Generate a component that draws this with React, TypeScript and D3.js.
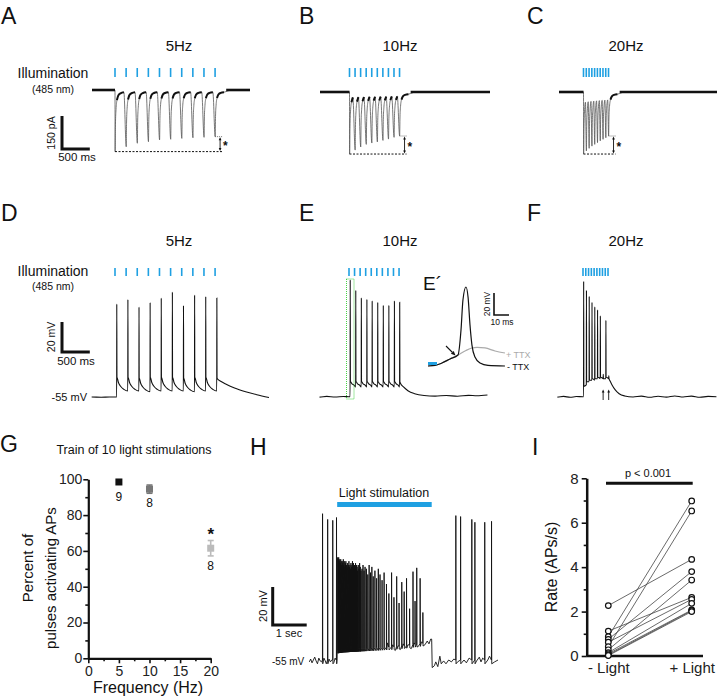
import { useEffect, useRef } from "react";
import * as d3 from "d3";

const FONT = "'Liberation Sans', Arial, Helvetica, sans-serif";
const BLUE = "#1fa0e2";
const INK = "#111";

// light pulse times (ms after first pulse)
const pulses5Hz = [0, 200, 400, 600, 800, 1000, 1200, 1400, 1600, 1800];
const pulses10Hz = [0, 100, 200, 300, 400, 500, 600, 700, 800, 900];
const pulses20Hz = [0, 50, 100, 150, 200, 250, 300, 350, 400, 450];

// A-C: peak photocurrent for each pulse (pA)
const peakA = [-280, -258, -242, -235, -227, -224, -220, -217, -215, -212];
const peakB = [-282, -264, -250, -238, -232, -227, -220, -214, -206, -200];
const peakC = [-282, -268, -256, -246, -238, -230, -222, -215, -208, -200];
// photocurrent time course: [ms after pulse, fraction of peak]
const epscShape = [[0, 0], [2, 1], [8, 0.55], [18, 0.3], [35, 0.14], [60, 0.06], [100, 0.025], [160, 0.01]];
const trainOffset = -8;

// D-F: light-evoked spikes, [ms, mV]
const spikeTD = [30, 230, 430, 630, 830, 1030, 1230, 1430, 1630, 1830];
const peakD = [7, 10, 5, 8, 11, 15, 6, 13, 12, 11];
const troughD = [-42, -42, -42.5, -42, -42, -42, -42.5, -42, -42, -42];
const preD = [-55, -51, -51, -51.5, -51, -51, -51, -51.5, -51, -51];
const headD = [[-420, -55], [-250, -55.2], [-100, -55], [0, -55]];
const tailD = [[1845, -43], [1900, -44.5], [2000, -46.5], [2150, -49], [2350, -51.5], [2550, -53.5], [2770, -55.3]];

const spikeTE = [20, 120, 220, 320, 415, 515, 615, 715, 815, 910];
const peakE = [23, 16, 11, 10, 9, 8, 6, 6, 9, 8];
const troughE = [-45, -45, -45, -45, -45, -45, -45, -45, -45, -45];
const preE = [-55, -48.5, -48.5, -48.5, -48.5, -48.5, -48.5, -48.5, -48.5, -48.5];
const headE = [[-530, -55.3], [-400, -54.8], [-250, -55.2], [-100, -54.9], [0, -55]];
const tailE = [[925, -46], [980, -48.5], [1060, -51], [1180, -53], [1350, -54.2], [1550, -54.6], [1750, -54.2], [1950, -54.7], [2150, -54.1], [2300, -54.4], [2490, -53.9]];

const spikeTF = [10, 60, 110, 160, 210, 260, 310, 362, 410, 462];
const peakF = [22, 16, 12, 8, 5, 3, -1, -40, -4, -41];
const troughF = [-48, -45, -44, -43, -43, -42, -42, -43, -42, -43];
const preF = [-55, -47, -45, -44, -44, -43, -43, -43, -43, -43];
const headF = [[-460, -55.3], [-350, -54.8], [-230, -55.4], [-120, -54.9], [0, -55]];
const tailF = [[480, -44], [520, -47], [580, -50.5], [650, -53], [750, -54.5], [900, -55.2], [1050, -54.6], [1200, -55.4], [1350, -54.7], [1500, -55.3], [1650, -54.5], [1800, -55.2], [1950, -54.6], [2100, -55.4], [2250, -54.8], [2400, -55]];
const failuresF = [362, 462];
// after-spike decay: [ms after spike, fraction from trough to next pre value]
const vDecay = [[8, 0], [30, 0.35], [70, 0.65], [130, 0.88]];

// E': single response with and without TTX, [ms, mV above rest]
const noTTX = [[0, 0], [4.7, 0.5], [9.3, 2.7], [14.7, 6.4], [20, 10], [22, 32.7], [23.3, 60], [25.3, 71.8], [26.7, 62.7], [28, 37.3], [29.3, 19], [31.3, 8.2], [34.7, 2.7], [40, 0.5], [51.3, 0]];
const withTTX = [[0, 0], [4.7, 0.5], [9.3, 2.7], [14.7, 6.4], [20, 10], [25.3, 14.1], [29.3, 16.4], [32.7, 17], [38, 16.4], [44.7, 13.6], [51.3, 11.8]];

// G: % of pulses that evoked an AP
const freqs = [5, 10, 20];
const pctMean = [98.5, 94.5, 61.5];
const pctSem = [0.6, 2.3, 4.3];
const cellN = ["9", "8", "8"];
const freqColors = ["#111", "#777", "#bbb"];

// H: long light stimulation, seconds / mV
const hRestPre = [[0, -56], [0.04, -54.5], [0.08, -56.5], [0.12, -55], [0.16, -53.5], [0.2, -55.5], [0.24, -57], [0.28, -54], [0.32, -55.5], [0.36, -56], [0.43, -54], [0.47, -55.5], [0.5, -57], [0.58, -54.5], [0.62, -56], [0.66, -55], [0.72, -56.5], [0.76, -54], [0.79, -55], [0.815, -55]];
const hPreSpikeT = [0.39, 0.54, 0.69, 0.8];
const hPreSpikePeak = [22, 19, 18.5, 20];
const hPlateau = [[0.82, -50], [1.0, -49.5], [1.5, -49], [2.0, -48.5], [2.5, -48], [3.0, -47], [3.4, -46], [3.6, -44.5]];
const hStimNoise = [[0.82, -50], [2.3, -46], [2.38, -49], [2.45, -47], [2.53, -50], [2.61, -47.5], [2.68, -49.5], [2.76, -46.5], [2.83, -48.5], [2.9, -47], [3.0, -49], [3.08, -46], [3.2, -48], [3.3, -45.5], [3.4, -47], [3.47, -45], [3.52, -46.5], [3.57, -44], [3.598, -44]];
const hStimSpikeT = [
  0.835, 0.85, 0.865, 0.88, 0.895, 0.91, 0.925, 0.94, 0.955, 0.97, 0.985, 1.0, 1.015, 1.03, 1.045, 1.06, 1.075, 1.09, 1.105, 1.12, 1.135, 1.15, 1.165, 1.18, 1.195, 1.21, 1.225, 1.24, 1.255, 1.27, 1.285, 1.3, 1.315, 1.33, 1.345, 1.36, 1.375, 1.39, 1.405, 1.42,
  1.44, 1.46, 1.48, 1.5, 1.52, 1.55, 1.58, 1.61, 1.64,
  1.68, 1.72, 1.76, 1.8, 1.84, 1.88,
  1.93, 1.98, 2.03, 2.08, 2.14, 2.2,
  2.27, 2.34, 2.42, 2.49, 2.57, 2.64, 2.72, 2.79, 2.86, 2.95, 3.05, 3.11, 3.16, 3.26, 3.34,
];
const hStimSpikePeak = [
  -1, -2, -1, -3, -2, -4, -2, -3, -5, -3, -4, -2, -5, -3, -6, -4, -3, -5, -6, -4, -7, -5, -3, -6, -5, -7, -4, -6, -5, -3, -6, -4, -7, -5, -6, -4, -7, -5, -6, -8,
  -5, -7, -4, -6, -8, -7, -5, -8, -6,
  -7, -10, -5, -9, -6, -11,
  -8, -12, -7, -10, -13, -9,
  -15, -20, -9, -22, -11, -25, -14, -19, -12, -28, -8.5, -24, -6.5, -12, -30,
];
const hRestPost = [[3.6, -44.5], [3.615, -59], [3.68, -58], [3.72, -56], [3.78, -58.5], [3.84, -53], [3.88, -57], [3.95, -55.5], [4.02, -57], [4.1, -55], [4.18, -56], [4.25, -54.5], [4.36, -56], [4.55, -55], [4.62, -56.5], [4.7, -54], [4.92, -55.5], [5.0, -53.5], [5.05, -56], [5.1, -54], [5.25, -55], [5.3, -53], [5.45, -56], [5.55, -55]];
const hPostSpikeT = [4.31, 4.45, 4.78, 4.87, 5.16, 5.36];
const hPostSpikePeak = [21, 20.5, 19, 17.5, 17.5, 18];

// I: firing rate per cell (APs/s)
const lightCats = ["- Light", "+ Light"];
const rateOff = [2.27, 1.12, 0.87, 0.75, 0.62, 0.42, 0.28, 0.15, 0.1, 0.05, 0.02];
const rateOn = [4.35, 2.64, 6.98, 3.8, 2.55, 6.53, 3.42, 2.37, 2.07, 2.04, 2.0];

function txt(g: any, x: number, y: number, s: string, size: number, o: any = {}) {
  const t = g.append("text").attr("x", x).attr("y", y).text(s)
    .attr("font-family", FONT).attr("font-size", size)
    .attr("text-anchor", o.anchor || "start")
    .attr("fill", o.fill || INK)
    .attr("font-weight", o.weight || "normal");
  if (o.rotate) t.attr("transform", `rotate(-90,${x},${y})`);
  return t;
}

function arrowHead(g: any, x: number, y: number, dx: number, dy: number, size: number) {
  const len = Math.hypot(dx, dy);
  const ux = dx / len, uy = dy / len;
  const bx = x - ux * size, by = y - uy * size;
  const px = -uy * size * 0.45, py = ux * size * 0.45;
  g.append("path").attr("d", `M${x},${y}L${bx + px},${by + py}L${bx - px},${by - py}Z`).attr("fill", INK);
}

function lightTicks(g: any, t: any, pulses: number[], y0: number, y1: number) {
  g.selectAll(null).data(pulses).join("line")
    .attr("x1", (d: number) => t(d)).attr("x2", (d: number) => t(d))
    .attr("y1", y0).attr("y2", y1)
    .attr("stroke", BLUE).attr("stroke-width", 1.6);
}

function drawCurrent(svg: any, c: any) {
  const t = d3.scaleLinear().domain([0, 1000]).range([c.xPulse, c.xPulse + 55.6]);
  const y = d3.scaleLinear().domain([0, -150]).range([c.base, c.base + 33]);
  const tStart = t.invert(c.x0), tEnd = t.invert(c.x1);
  const last = c.pulses.length - 1;
  const pts: number[][] = [[tStart, 0]];
  c.pulses.forEach((p: number, i: number) => {
    const next = i < last ? c.pulses[i + 1] : Infinity;
    epscShape.forEach(([dt, f], k) => {
      if (k === 0 && i > 0) return;
      if (p + dt >= next) return;
      pts.push([p + dt, k === 0 ? 0 : c.peaks[i] * f + trainOffset * (1 - f)]);
    });
  });
  pts.push([c.pulses[last] + 300, 0], [tEnd, 0]);
  const line = d3.line().x((d: any) => t(d[0])).y((d: any) => y(d[1])).curve(d3.curveMonotoneX);
  svg.append("path").attr("d", line(pts as any)).attr("fill", "none").attr("stroke", "#555").attr("stroke-width", 0.8);
  // noisy baseline, drawn heavier
  svg.append("path").attr("d", line([[tStart, 0], [0, 0]] as any)).attr("stroke", INK).attr("stroke-width", 2.6);
  svg.append("path").attr("d", line([[c.pulses[last] + 200, 0], [tEnd, 0]] as any)).attr("stroke", INK).attr("stroke-width", 2.6);
  // thick tops between pulses
  c.pulses.forEach((p: number, i: number) => {
    const next = i < last ? c.pulses[i + 1] : p + 200;
    const seg = pts.filter((d) => d[0] >= p + 35 && d[0] < next);
    if (seg.length > 1) svg.append("path").attr("d", line(seg as any)).attr("fill", "none").attr("stroke", INK).attr("stroke-width", 2);
  });

  lightTicks(svg, t, c.pulses, 68, 77);

  const yMin = y(d3.min(c.peaks) as number);
  const yLast = y(c.peaks[last]);
  const ax = t(c.pulses[last]) + 5;
  svg.append("line").attr("x1", t(0)).attr("x2", ax + 2).attr("y1", yMin).attr("y2", yMin)
    .attr("stroke", INK).attr("stroke-width", 1).attr("stroke-dasharray", "2,1.5");
  svg.append("line").attr("x1", t(c.pulses[last])).attr("x2", ax + 2).attr("y1", yLast).attr("y2", yLast)
    .attr("stroke", "#555").attr("stroke-width", 0.8).attr("stroke-dasharray", "1,1");
  svg.append("line").attr("x1", ax).attr("x2", ax).attr("y1", yLast + 2).attr("y2", yMin - 2)
    .attr("stroke", INK).attr("stroke-width", 0.9);
  arrowHead(svg, ax, yLast + 0.5, 0, -1, 3);
  arrowHead(svg, ax, yMin - 0.5, 0, 1, 3);
  txt(svg, ax + 3, (yLast + yMin) / 2 + 6, "*", 12, { weight: "bold" });
  txt(svg, c.titleX, 51, c.title, 15, { anchor: "middle" });
}

function drawVoltage(svg: any, c: any) {
  const t = d3.scaleLinear().domain([0, 1000]).range([c.xPulse, c.xPulse + 55.6]);
  const y = d3.scaleLinear().domain([-55, -35]).range([c.base, c.base - 30]);
  const pts: number[][] = [[t.invert(c.x0), c.head[0][1]], ...c.head];
  const n = c.spikes.length;
  c.spikes.forEach((s: number, i: number) => {
    const next = i < n - 1 ? c.spikes[i + 1] : Infinity;
    pts.push([s, c.pres[i]], [s + 2, c.peaks[i]], [s + 5, c.troughs[i]]);
    if (i < n - 1) {
      vDecay.forEach(([dt, f]) => {
        if (s + dt < next - 3) pts.push([s + dt, c.troughs[i] + (c.pres[i + 1] - c.troughs[i]) * f]);
      });
    }
  });
  c.tail.forEach((p: number[]) => pts.push(p));
  const line = d3.line().x((d: any) => t(d[0])).y((d: any) => y(d[1])).curve(d3.curveMonotoneX);
  svg.append("path").attr("d", line(pts as any)).attr("fill", "none").attr("stroke", INK).attr("stroke-width", 1.1);
  lightTicks(svg, t, c.pulses, 268, 276);
  txt(svg, c.titleX, 246, c.title, 15, { anchor: "middle" });
  return { t, y };
}

export default function App() {
  const ref = useRef<SVGSVGElement>(null);

  useEffect(() => {
    const svg = d3.select(ref.current);
    svg.selectAll("*").remove();

    // panel letters
    const letters: [string, number, number][] = [["A", 1, 24], ["B", 299, 24], ["C", 527, 24], ["D", 1, 221], ["E", 299, 221], ["F", 527, 221], ["G", 0, 452], ["H", 250, 455], ["I", 532, 455]];
    letters.forEach(([s, x, y]) => txt(svg, x, y, s, 23));

    // ---------- A-C photocurrents ----------
    drawCurrent(svg, { title: "5Hz", titleX: 179, x0: 92, x1: 250, xPulse: 115, base: 90, pulses: pulses5Hz, peaks: peakA });
    drawCurrent(svg, { title: "10Hz", titleX: 400, x0: 320, x1: 490, xPulse: 349.5, base: 92, pulses: pulses10Hz, peaks: peakB });
    drawCurrent(svg, { title: "20Hz", titleX: 626, x0: 559, x1: 717, xPulse: 583.5, base: 92, pulses: pulses20Hz, peaks: peakC });

    txt(svg, 53, 78, "Illumination", 14, { anchor: "middle" });
    txt(svg, 53, 93, "(485 nm)", 10.5, { anchor: "middle" });
    // current scale bar: 150 pA / 500 ms
    const sbT = d3.scaleLinear().domain([0, 500]).range([62, 62 + 27.8]);
    const sbI = d3.scaleLinear().domain([0, 150]).range([149, 116]);
    svg.append("path").attr("d", `M${sbT(0)},${sbI(150)}V${sbI(0)}H${sbT(500)}`).attr("fill", "none").attr("stroke", INK).attr("stroke-width", 3);
    txt(svg, 55, 133, "150 pA", 10.5, { anchor: "middle", rotate: true });
    txt(svg, 77, 161, "500 ms", 11.5, { anchor: "middle" });

    // ---------- D-F voltage ----------
    drawVoltage(svg, { title: "5Hz", titleX: 179, x0: 92, xPulse: 115, base: 397, pulses: pulses5Hz, spikes: spikeTD, peaks: peakD, troughs: troughD, pres: preD, head: headD, tail: tailD });
    drawVoltage(svg, { title: "10Hz", titleX: 400, x0: 320, xPulse: 349, base: 396.7, pulses: pulses10Hz, spikes: spikeTE, peaks: peakE, troughs: troughE, pres: preE, head: headE, tail: tailE });
    const f = drawVoltage(svg, { title: "20Hz", titleX: 626, x0: 558, xPulse: 583, base: 396.7, pulses: pulses20Hz, spikes: spikeTF, peaks: peakF, troughs: troughF, pres: preF, head: headF, tail: tailF });
    failuresF.forEach((tt) => {
      const x = f.t(tt);
      svg.append("line").attr("x1", x).attr("x2", x).attr("y1", 400).attr("y2", 392).attr("stroke", INK).attr("stroke-width", 0.9);
      arrowHead(svg, x, 389.5, 0, -1, 3);
    });

    txt(svg, 53, 276, "Illumination", 14, { anchor: "middle" });
    txt(svg, 53, 290, "(485 nm)", 10.5, { anchor: "middle" });
    const sbV = d3.scaleLinear().domain([0, 20]).range([352, 322]);
    svg.append("path").attr("d", `M${sbT(0)},${sbV(20)}V${sbV(0)}H${sbT(500)}`).attr("fill", "none").attr("stroke", INK).attr("stroke-width", 3);
    txt(svg, 55, 337, "20 mV", 10.5, { anchor: "middle", rotate: true });
    txt(svg, 76, 365, "500 ms", 11.5, { anchor: "middle" });
    txt(svg, 87, 401, "-55 mV", 11, { anchor: "end" });

    // green box around first spike in E
    svg.append("rect").attr("x", 346.5).attr("y", 279).attr("width", 7.5).attr("height", 120)
      .attr("fill", "none").attr("stroke", "#3c3").attr("stroke-width", 0.9).attr("stroke-dasharray", "1,1");

    // ---------- E' inset ----------
    const ex = d3.scaleLinear().domain([0, 10]).range([428, 443]);
    const ey = d3.scaleLinear().domain([0, 20]).range([366, 344]);
    const eLine = d3.line().x((d: any) => ex(d[0])).y((d: any) => ey(d[1])).curve(d3.curveMonotoneX);
    svg.append("path").attr("d", eLine(withTTX as any)).attr("fill", "none").attr("stroke", "#aaa").attr("stroke-width", 1.2);
    svg.append("path").attr("d", eLine(noTTX as any)).attr("fill", "none").attr("stroke", INK).attr("stroke-width", 1.2);
    svg.append("rect").attr("x", 428).attr("y", 362).attr("width", 9).attr("height", 3).attr("fill", BLUE);
    svg.append("line").attr("x1", 446).attr("y1", 346).attr("x2", 452.5).attr("y2", 352.5).attr("stroke", INK).attr("stroke-width", 1.1);
    arrowHead(svg, 455.5, 355.5, 1, 1, 4.5);
    const eSbY = 315;
    svg.append("path").attr("d", `M494,${eSbY - (ey(0) - ey(20))}V${eSbY}H${494 + (ex(10) - ex(0))}`)
      .attr("fill", "none").attr("stroke", INK).attr("stroke-width", 1.6);
    txt(svg, 490, 304, "20 mV", 8.5, { anchor: "middle", rotate: true });
    txt(svg, 502, 325, "10 ms", 8.5, { anchor: "middle" });
    txt(svg, 506, 358, "+ TTX", 9, { fill: "#aaa" });
    txt(svg, 507, 370, "- TTX", 9);
    txt(svg, 423, 290, "E\u00b4", 19);

    // ---------- G scatter ----------
    const gx = d3.scaleLinear().domain([0, 20]).range([88.3, 210.7]);
    const gy = d3.scaleLinear().domain([0, 100]).range([658.3, 479.3]);
    const gAxY = svg.append("g").attr("transform", "translate(88.3,0)")
      .call(d3.axisLeft(gy).tickValues([0, 20, 40, 60, 80, 100]).tickSize(5).tickSizeOuter(0).tickPadding(1));
    svg.append("g").attr("transform", "translate(88.3,0)")
      .call(d3.axisLeft(gy).tickValues([10, 30, 50, 70, 90]).tickSize(3).tickFormat(() => ""))
      .call((g: any) => g.select(".domain").remove());
    const gAxX = svg.append("g").attr("transform", "translate(0,658.3)")
      .call(d3.axisBottom(gx).tickValues([0, 5, 10, 15, 20]).tickSize(5).tickSizeOuter(0).tickPadding(3));
    svg.append("g").attr("transform", "translate(0,658.3)")
      .call(d3.axisBottom(gx).tickValues([2.5, 7.5, 12.5, 17.5]).tickSize(3).tickFormat(() => ""))
      .call((g: any) => g.select(".domain").remove());
    [gAxY, gAxX].forEach((g: any) => {
      g.attr("font-family", FONT).attr("font-size", 14);
      g.select(".domain").attr("stroke-width", 2.2).attr("stroke", INK);
      g.selectAll(".tick text").attr("fill", "#222");
    });
    svg.selectAll(".tick line").attr("stroke-width", 1.6).attr("stroke", INK);

    freqs.forEach((fq, i) => {
      const cx = gx(fq);
      const col = freqColors[i];
      if (pctSem[i] > 1) {
        svg.append("line").attr("x1", cx).attr("x2", cx).attr("y1", gy(pctMean[i] + pctSem[i])).attr("y2", gy(pctMean[i] - pctSem[i])).attr("stroke", col).attr("stroke-width", 1.6);
        [pctMean[i] + pctSem[i], pctMean[i] - pctSem[i]].forEach((v) =>
          svg.append("line").attr("x1", cx - 3).attr("x2", cx + 3).attr("y1", gy(v)).attr("y2", gy(v)).attr("stroke", col).attr("stroke-width", 1.6));
      }
      svg.append("rect").attr("x", cx - 3.5).attr("y", gy(pctMean[i]) - 3.5).attr("width", 7).attr("height", 7).attr("fill", col);
    });
    txt(svg, gx(5), 501, cellN[0], 12, { anchor: "middle" });
    txt(svg, gx(10), 507, cellN[1], 12, { anchor: "middle" });
    txt(svg, gx(20), 570, cellN[2], 12, { anchor: "middle" });
    txt(svg, gx(20), 540, "*", 17, { anchor: "middle", weight: "bold" });
    txt(svg, 134, 454, "Train of 10 light stimulations", 12.5, { anchor: "middle" });
    txt(svg, 33, 568, "Percent of", 15, { anchor: "middle", rotate: true });
    txt(svg, 56, 578, "pulses activating APs", 15, { anchor: "middle", rotate: true });
    txt(svg, 148, 693, "Frequency (Hz)", 16, { anchor: "middle" });

    // ---------- H long stimulation ----------
    const hx = d3.scaleLinear().domain([0, 1]).range([309.3, 343.3]);
    const hy = d3.scaleLinear().domain([-55, -35]).range([660, 622]);
    const plateau = d3.scaleLinear().domain(hPlateau.map((d) => d[0])).range(hPlateau.map((d) => d[1]));
    const hPts: number[][] = [];
    hRestPre.forEach((p) => hPts.push(p));
    hPreSpikeT.forEach((s, i) => hPts.push([s - 0.003, -55], [s, hPreSpikePeak[i]], [s + 0.006, -57]));
    hStimNoise.forEach((p) => hPts.push(p));
    hStimSpikeT.forEach((s, i) => {
      const b = plateau(s);
      hPts.push([s - 0.003, b], [s, hStimSpikePeak[i]], [s + 0.006, b - 1.5]);
    });
    hRestPost.forEach((p) => hPts.push(p));
    hPostSpikeT.forEach((s, i) => hPts.push([s - 0.003, -55], [s, hPostSpikePeak[i]], [s + 0.006, -57]));
    hPts.sort((a, b) => a[0] - b[0]);
    const hLine = d3.line().x((d: any) => hx(d[0])).y((d: any) => hy(d[1]));
    svg.append("path").attr("d", hLine(hPts as any)).attr("fill", "none").attr("stroke", INK).attr("stroke-width", 0.9);
    svg.append("rect").attr("x", hx(0.82)).attr("y", 502).attr("width", hx(3.6) - hx(0.82)).attr("height", 5).attr("fill", BLUE);
    txt(svg, 384, 497, "Light stimulation", 12.5, { anchor: "middle" });
    // scale bar 20 mV / 1 s
    const hsbX = 272.7, hsbY = 625;
    svg.append("path").attr("d", `M${hsbX},${hsbY - (hy(-55) - hy(-35))}V${hsbY}H${hsbX + hx(1) - hx(0)}`)
      .attr("fill", "none").attr("stroke", INK).attr("stroke-width", 3);
    txt(svg, 267, 606, "20 mV", 11, { anchor: "middle", rotate: true });
    txt(svg, 289, 637, "1 sec", 11, { anchor: "middle" });
    txt(svg, 272, 665, "-55 mV", 10);

    // ---------- I paired rates ----------
    const iy = d3.scaleLinear().domain([0, 8]).range([656, 478.3]);
    const ix = d3.scalePoint().domain(lightCats).range([608.3, 691.7]);
    const iAx = svg.append("g").attr("transform", "translate(586.7,0)")
      .call(d3.axisLeft(iy).tickValues([0, 2, 4, 6, 8]).tickSize(5).tickSizeOuter(0).tickPadding(3));
    svg.append("g").attr("transform", "translate(586.7,0)")
      .call(d3.axisLeft(iy).tickValues([1, 3, 5, 7]).tickSize(3).tickFormat(() => ""))
      .call((g: any) => g.select(".domain").remove());
    iAx.attr("font-family", FONT).attr("font-size", 15);
    iAx.select(".domain").attr("stroke-width", 2.5).attr("stroke", INK);
    iAx.selectAll(".tick text").attr("fill", "#222");
    svg.selectAll(".tick line").attr("stroke-width", 1.6).attr("stroke", INK);
    svg.append("line").attr("x1", 586.7).attr("x2", 703).attr("y1", 656).attr("y2", 656).attr("stroke", INK).attr("stroke-width", 2.5);
    const iXAx = svg.append("g").attr("transform", "translate(0,656)").call(d3.axisBottom(ix).tickSize(0).tickPadding(6));
    iXAx.select(".domain").remove();
    iXAx.attr("font-family", FONT).attr("font-size", 15).selectAll("text").attr("fill", "#222");

    rateOff.forEach((v, i) => {
      svg.append("line").attr("x1", ix("- Light")).attr("x2", ix("+ Light")).attr("y1", iy(v)).attr("y2", iy(rateOn[i]))
        .attr("stroke", "#444").attr("stroke-width", 0.8);
    });
    [...rateOff.map((v) => ["- Light", v]), ...rateOn.map((v) => ["+ Light", v])].forEach(([c, v]: any) => {
      svg.append("circle").attr("cx", ix(c)).attr("cy", iy(v)).attr("r", 2.8).attr("fill", "#fff").attr("stroke", INK).attr("stroke-width", 1.2);
    });
    svg.append("line").attr("x1", 606).attr("x2", 692.7).attr("y1", 483.3).attr("y2", 483.3).attr("stroke", INK).attr("stroke-width", 3);
    txt(svg, 648, 477, "p < 0.001", 11, { anchor: "middle" });
    txt(svg, 557, 567, "Rate (APs/s)", 16, { anchor: "middle", rotate: true });
  }, []);

  return (
    <svg ref={ref} width={717} height={700} style={{ position: "absolute", left: 0, top: 0, background: "#fff" }} />
  );
}
